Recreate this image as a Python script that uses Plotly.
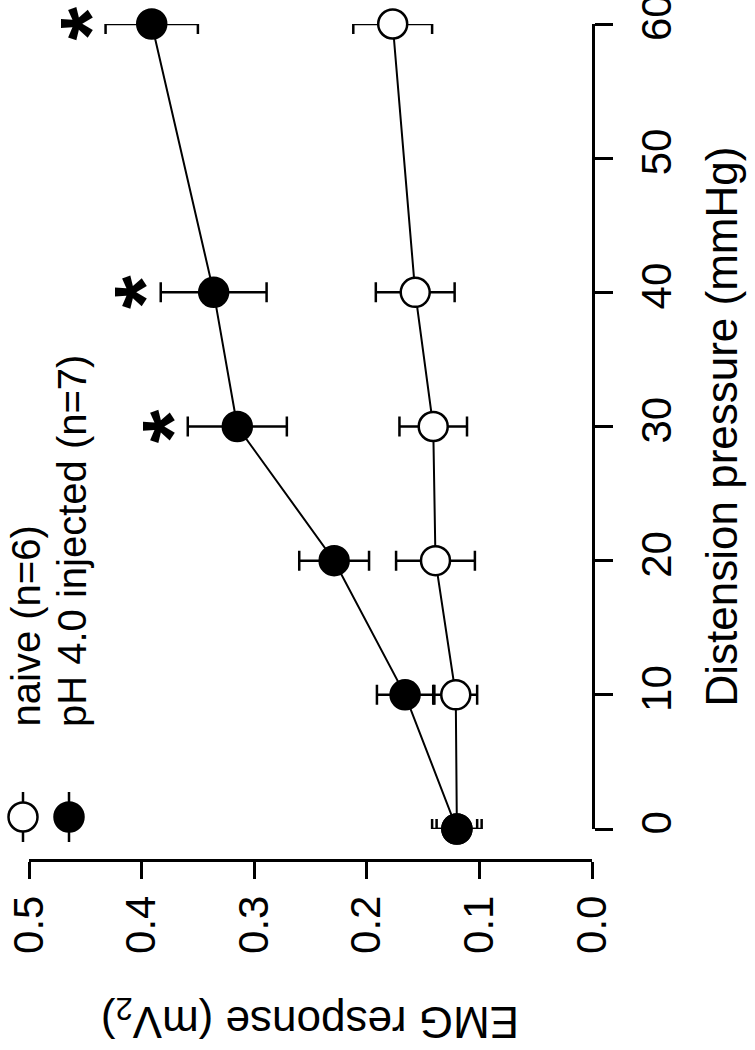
import plotly.graph_objects as go

pressure = [0, 10, 20, 30, 40, 60]
naive_mean = [0.120, 0.121, 0.139, 0.141, 0.157, 0.177]
naive_sem = [0.018, 0.019, 0.035, 0.030, 0.035, 0.035]
ph_mean = [0.120, 0.166, 0.229, 0.315, 0.336, 0.391]
ph_sem = [0.022, 0.025, 0.031, 0.044, 0.047, 0.041]
significant = [30, 40, 60]
emg_ticks = [0.0, 0.1, 0.2, 0.3, 0.4, 0.5]
pressure_ticks = [0, 10, 20, 30, 40, 50, 60]
legend_labels = ["naive (n=6)", "pH 4.0 injected (n=7)"]

FONT = "Liberation Sans, Arial, sans-serif"
W, H = 755, 1050
L, R, T, B = 29, 592, 24, 860  # plot area in pixels


def px(x):
    return (x - L) / (R - L)


def py(y):
    return (B - y) / (B - T)


fig = go.Figure()

fig.add_trace(go.Scatter(
    x=naive_mean, y=pressure, mode="lines+markers", name=legend_labels[0],
    line=dict(color="black", width=2),
    marker=dict(size=29, color="white", line=dict(color="black", width=2.5)),
    error_x=dict(type="data", array=naive_sem, color="black", thickness=2.5, width=10),
    cliponaxis=False, showlegend=False))

fig.add_trace(go.Scatter(
    x=ph_mean, y=pressure, mode="lines+markers", name=legend_labels[1],
    line=dict(color="black", width=2),
    marker=dict(size=29, color="black", line=dict(color="black", width=2.5)),
    error_x=dict(type="data", array=ph_sem, color="black", thickness=2.5, width=10),
    cliponaxis=False, showlegend=False))

# significance stars, placed just past the upper error bar
for p, m, s in zip(pressure, ph_mean, ph_sem):
    if p in significant:
        fig.add_annotation(x=m + s, y=p, xref="x", yref="y", text="<b>*</b>",
                           showarrow=False, textangle=-90, xshift=-16,
                           font=dict(family=FONT, size=86, color="black"))

# rotated legend drawn by hand
leg_y = py(817)
for xp, fill in [(23, "white"), (69, "black")]:
    fig.add_shape(type="line", xref="paper", yref="paper", xsizemode="pixel", ysizemode="pixel",
                  xanchor=px(xp), yanchor=leg_y, x0=0, x1=0, y0=-25, y1=25,
                  line=dict(color="black", width=2.5))
    fig.add_shape(type="circle", xref="paper", yref="paper", xsizemode="pixel", ysizemode="pixel",
                  xanchor=px(xp), yanchor=leg_y, x0=-14.5, x1=14.5, y0=-14.5, y1=14.5,
                  fillcolor=fill, line=dict(color="black", width=2.5))
for lab, xp in zip(legend_labels, [25, 72]):
    fig.add_annotation(x=px(xp), y=py(729), xref="paper", yref="paper", text=lab,
                       showarrow=False, textangle=-90, xanchor="center", yanchor="bottom",
                       font=dict(family=FONT, size=40, color="black"))

# axis titles (rotated like the rest of the figure)
fig.add_annotation(x=px(721), y=30, xref="paper", yref="y", text="Distension pressure (mmHg)",
                   showarrow=False, textangle=-90, xanchor="center", yanchor="middle",
                   font=dict(family=FONT, size=44, color="black"))
fig.add_annotation(x=0.25, y=py(1019), xref="x", yref="paper", text="EMG response (mV<sub>2</sub>)",
                   showarrow=False, textangle=180, xanchor="center", yanchor="middle",
                   font=dict(family=FONT, size=44, color="black"))

fig.update_layout(
    width=W, height=H,
    margin=dict(l=L, r=W - R, t=T, b=H - B, pad=0, autoexpand=False),
    paper_bgcolor="white", plot_bgcolor="white",
    font=dict(family=FONT, size=42, color="black"),
    xaxis=dict(range=[0.5, 0.0], tickvals=emg_ticks, ticktext=[f"{v:.1f}" for v in emg_ticks],
               tickangle=-90, showgrid=False, zeroline=False, showline=True, linecolor="black",
               linewidth=2.5, ticks="outside", ticklen=17, tickwidth=2.5, tickcolor="black",
               anchor="free", position=0, ticklabelstandoff=0, ticklabeloverflow="allow",
               automargin=False, tickfont=dict(family=FONT, size=42, color="black")),
    yaxis=dict(range=[0, 60], tickvals=pressure_ticks, domain=[py(829), 1], side="right",
               anchor="x", tickangle=-90, showgrid=False, zeroline=False, showline=True,
               linecolor="black", linewidth=2.5, ticks="outside", ticklen=18, tickwidth=2.5,
               tickcolor="black", ticklabelstandoff=8, ticklabeloverflow="allow",
               automargin=False, tickfont=dict(family=FONT, size=42, color="black")),
    showlegend=False,
)

# drop the default 8px page margin so the figure fills the window
fig.write_html("out.html", config={"displayModeBar": False},
               post_script="document.body.style.margin='0';")
